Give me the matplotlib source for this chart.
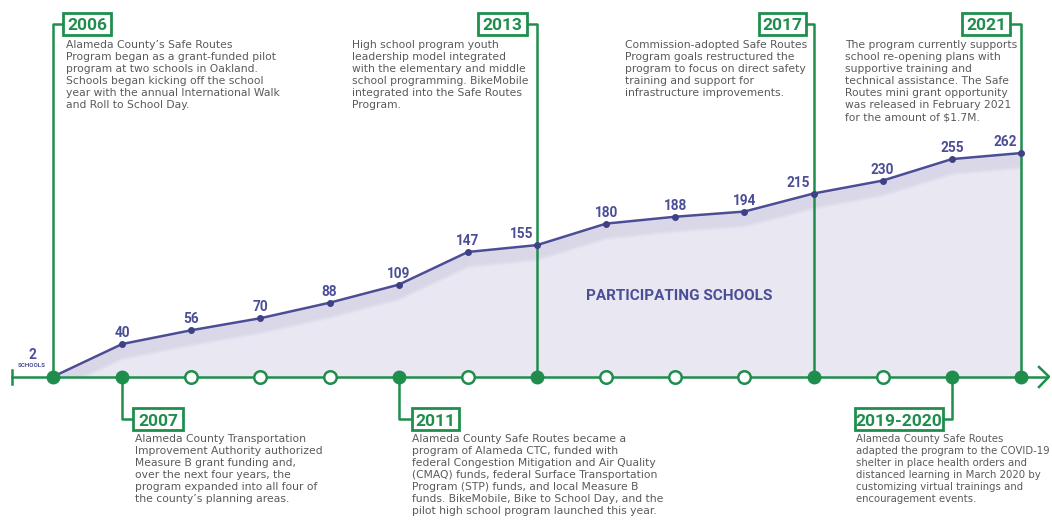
import matplotlib.pyplot as plt
from matplotlib.patches import Rectangle, Polygon

# ─── Datos ─────────────────────────────────────────
years = ['2006', '2007', '2008', '2009', '2010', '2011', '2012', '2013',
         '2014', '2015', '2016', '2017', '2018', '2019', '2021']
schools = [2, 40, 56, 70, 88, 109, 147, 155, 180, 188, 194, 215, 230, 255, 262]

top_labels = ['2006', '2013', '2017', '2021']
top_idx = [0, 7, 11, 14]
top_notes = [
    "Alameda County’s Safe Routes\nProgram began as a grant-funded pilot\n"
    "program at two schools in Oakland.\nSchools began kicking off the school\n"
    "year with the annual International Walk\nand Roll to School Day.",
    "High school program youth\nleadership model integrated\n"
    "with the elementary and middle\nschool programming. BikeMobile\n"
    "integrated into the Safe Routes\nProgram.",
    "Commission-adopted Safe Routes\nProgram goals restructured the\n"
    "program to focus on direct safety\ntraining and support for\n"
    "infrastructure improvements.",
    "The program currently supports\nschool re-opening plans with\n"
    "supportive training and\ntechnical assistance. The Safe\n"
    "Routes mini grant opportunity\nwas released in February 2021\n"
    "for the amount of $1.7M.",
]

bottom_labels = ['2007', '2011', '2019-2020']
bottom_idx = [1, 5, 13]
bottom_notes = [
    "Alameda County Transportation\nImprovement Authority authorized\n"
    "Measure B grant funding and,\nover the next four years, the\n"
    "program expanded into all four of\nthe county’s planning areas.",
    "Alameda County Safe Routes became a\nprogram of Alameda CTC, funded with\n"
    "federal Congestion Mitigation and Air Quality\n(CMAQ) funds, federal Surface Transportation\n"
    "Program (STP) funds, and local Measure B\nfunds. BikeMobile, Bike to School Day, and the\n"
    "pilot high school program launched this year.",
    "Alameda County Safe Routes\nadapted the program to the COVID-19\n"
    "shelter in place health orders and\ndistanced learning in March 2020 by\n"
    "customizing virtual trainings and\nencouragement events.",
]

# ─── Estilo ────────────────────────────────────────
green = '#1f8e4d'
purple = '#4b4e96'
fill_col = '#e9e7f2'
grey = '#5a5a5a'

W, H = 1052, 521
fig = plt.figure(figsize=(W / 100, H / 100), dpi=100)
fig.patch.set_facecolor('white')
ax = fig.add_axes([0, 0, 1, 1])
ax.axis('off')
ax.set_xlim(-0.767, 14.449)
ax.set_ylim(-165.8, 440)

inv = ax.transData.inverted()


def to_data(px, py):
    return inv.transform(fig.transFigure.transform((px / W, 1 - py / H)))


def fx(px):
    return px / W


def fy(py):
    return 1 - py / H


x = list(range(len(schools)))
base = schools[0]

# área bajo la curva
poly = Polygon(list(zip(x, schools)) + [(x[-1], base), (x[0], base)],
               closed=True, fc=fill_col, ec='none', zorder=1)
ax.add_patch(poly)
for k in range(1, 14):
    sh, = ax.plot(x, [s - k * 1.3 for s in schools], color=purple,
                  alpha=0.022, lw=3, zorder=2)
    sh.set_clip_path(poly)

# línea de tiempo
x_start = to_data(12, 0)[0]
x_end = to_data(1047, 0)[0]
ax.plot([x_start, x_end], [base, base], color=green, lw=1.8, zorder=4)
t0 = to_data(12, 370)[1]
t1 = to_data(12, 384)[1]
ax.plot([x_start, x_start], [t0, t1], color=green, lw=1.8, zorder=4)
a0 = to_data(1039, 367)
a2 = to_data(1039, 387)
ax.plot([a0[0], to_data(1049, 0)[0], a2[0]], [a0[1], base, a2[1]],
        color=green, lw=1.8, zorder=4)


def milestone(lab, i, note, box, text_x, y_link, box_top, text_top, size=7.75):
    bx0, bx1 = box
    px_i = fig.transFigure.inverted().transform(ax.transData.transform((i, 0)))[0] * W
    edge = bx0 if bx0 > px_i else bx1
    yc = to_data(0, y_link)[1]
    ax.plot([x[i], x[i], to_data(edge, 0)[0]], [base, yc, yc],
            color=green, lw=1.8, zorder=3)
    fig.patches.append(Rectangle((fx(bx0), fy(box_top + 22)), (bx1 - bx0) / W, 22 / H,
                                 transform=fig.transFigure, fc='white', ec=green, lw=2))
    fig.text(fx((bx0 + bx1) / 2), fy(box_top + 17.5), lab, ha='center', va='baseline',
             fontsize=12.5, fontweight='bold', color=green, family='Roboto')
    fig.text(fx(text_x), fy(text_top), note, ha='left', va='top', fontsize=size,
             color=grey, linespacing=1.26)


# hitos superiores
top_boxes = [(63, 111), (478, 527), (759, 806), (962, 1010)]
top_text_x = [66, 352, 625, 845]
for lab, i, note, box, tx in zip(top_labels, top_idx, top_notes, top_boxes, top_text_x):
    milestone(lab, i, note, box, tx, 24, 13, 40)

# hitos inferiores
bottom_boxes = [(133, 183), (412, 459), (855, 943)]
bottom_text_x = [135, 412, 856]
bottom_sizes = [7.75, 7.75, 7.3]
for lab, i, note, box, tx, sz in zip(bottom_labels, bottom_idx, bottom_notes,
                                     bottom_boxes, bottom_text_x, bottom_sizes):
    milestone(lab, i, note, box, tx, 419, 408, 434, sz)

# curva de escuelas
ax.plot(x, schools, color=purple, lw=1.8, zorder=5)
ax.plot(x, schools, 'o', color='#3e4183', ms=4, zorder=6)

# marcadores en la línea de tiempo
milestones = set(top_idx + bottom_idx)
for i in x:
    if i in milestones:
        ax.plot(i, base, 'o', color=green, ms=9, zorder=7)
    else:
        ax.plot(i, base, 'o', mfc='white', mec=green, mew=1.8, ms=9, zorder=7)

# etiquetas de valores
for i, s in zip(x[1:], schools[1:]):
    dx = -11 if i in top_idx else 0
    ax.annotate(str(s), (i, s), xytext=(dx, 5), textcoords='offset points',
                ha='center', va='baseline', fontsize=9.8, fontweight='bold',
                color=purple, family='Roboto', zorder=8)

fig.text(fx(32), fy(359), str(schools[0]), ha='center', va='baseline',
         fontsize=9.8, fontweight='bold', color=purple, family='Roboto')
fig.text(fx(32), fy(367), 'SCHOOLS', ha='center', va='baseline',
         fontsize=4.5, fontweight='bold', color=purple, family='Roboto')

fig.text(fx(679), fy(296), 'PARTICIPATING SCHOOLS', ha='center', va='center',
         fontsize=11, fontweight='bold', color=purple, family='Roboto')

plt.savefig('out.png', dpi=100)
